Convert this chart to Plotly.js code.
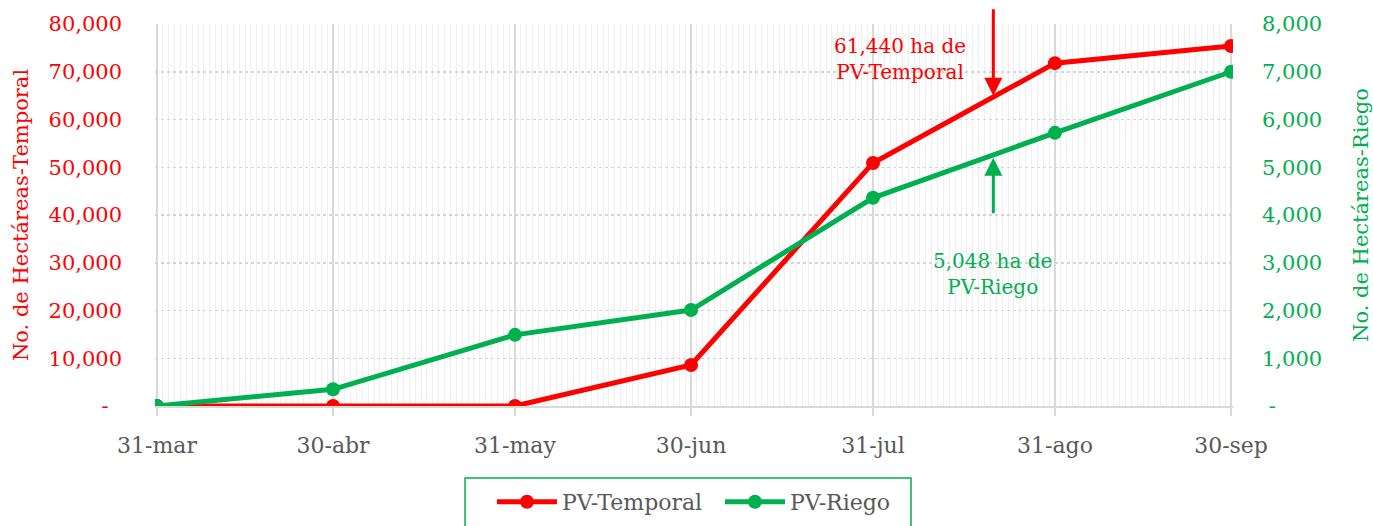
<!DOCTYPE html>
<html>
<head>
<meta charset="utf-8">
<script src="https://cdn.plot.ly/plotly-3.0.1.min.js"></script>
<style>html,body{margin:0;padding:0;background:#fff;}#chart{width:1373px;height:526px;}</style>
</head>
<body>
<div id="chart"></div>
<script>
// ---- data ----
var dates = ['2023-03-31','2023-04-30','2023-05-31','2023-06-30','2023-07-31','2023-08-31','2023-09-30'];
var dateLabels = ['31-mar','30-abr','31-may','30-jun','31-jul','31-ago','30-sep'];
var temporal = [0, 0, 0, 8600, 50900, 71800, 75400];
var riego = [0, 350, 1490, 2010, 4360, 5720, 7000];
var leftTickVals = [0,10000,20000,30000,40000,50000,60000,70000,80000];
var leftTickText = ['-\u00a0\u00a0','10,000','20,000','30,000','40,000','50,000','60,000','70,000','80,000'];
var rightTickVals = [0,1000,2000,3000,4000,5000,6000,7000,8000];
var rightTickText = ['\u00a0-','1,000','2,000','3,000','4,000','5,000','6,000','7,000','8,000'];
var noteTemporal = '61,440 ha de<br>PV-Temporal';
var noteRiego = '5,048 ha de<br>PV-Riego';
var noteDate = '2023-08-20 12:00';
var noteTemporalValue = 65000;
var noteRiegoValue = 5200;

var RED = '#ff0000', GREEN = '#00b050', GRAY = '#595959';
var FONT = 'DejaVu Serif';

var traces = [
  {x: dates, y: temporal, name: 'PV-Temporal', type: 'scatter', mode: 'lines+markers',
   line: {color: RED, width: 5}, marker: {color: RED, size: 14}, yaxis: 'y'},
  {x: dates, y: riego, name: 'PV-Riego', type: 'scatter', mode: 'lines+markers',
   line: {color: GREEN, width: 5}, marker: {color: GREEN, size: 14}, yaxis: 'y2'}
];

var layout = {
  width: 1373, height: 526,
  margin: {l: 155, r: 140, t: 24, b: 120, autoexpand: false},
  paper_bgcolor: '#fff', plot_bgcolor: '#fff',
  font: {family: FONT, size: 21, color: GRAY},
  showlegend: true,
  legend: {orientation: 'h', x: 0.3126, xanchor: 'left', y: -0.251, yanchor: 'middle',
           font: {family: FONT, size: 22, color: GRAY}, bgcolor: 'rgba(0,0,0,0)', borderwidth: 0,
           itemwidth: 60, entrywidth: 153},
  xaxis: {
    type: 'date', range: ['2023-03-30 16:00', '2023-09-30 08:00'],
    tickmode: 'array', tickvals: dates, ticktext: dateLabels,
    tickfont: {family: FONT, size: 22, color: GRAY},
    showgrid: true, gridcolor: '#d9d9d9', gridwidth: 1.5,
    ticks: 'outside', ticklen: 8, tickcolor: '#d9d9d9', tickwidth: 1.5, ticklabelstandoff: 11,
    showline: true, linecolor: '#d9d9d9', linewidth: 1.5,
    minor: {dtick: 86400000, showgrid: true, gridcolor: '#efefef', gridwidth: 1, ticks: ''},
    zeroline: false, fixedrange: true
  },
  yaxis: {
    range: [0, 80000], tickmode: 'array', tickvals: leftTickVals, ticktext: leftTickText,
    tickfont: {family: FONT, size: 21, color: RED},
    showgrid: true, gridcolor: '#d6d6d6', gridwidth: 1.5, griddash: 'dot',
    zeroline: false, showline: false, ticks: '', ticklabelstandoff: 32,
    title: {text: 'No. de Hectáreas-Temporal', font: {family: FONT, size: 21, color: RED}, standoff: 14}
  },
  yaxis2: {
    range: [0, 8000], overlaying: 'y', side: 'right', tickmode: 'array', tickvals: rightTickVals, ticktext: rightTickText,
    tickfont: {family: FONT, size: 21, color: GREEN},
    showgrid: false, zeroline: false, showline: false, ticks: '', ticklabelstandoff: 28,
    title: {text: 'No. de Hectáreas-Riego', font: {family: FONT, size: 21, color: GREEN}, standoff: 32}
  },
  shapes: [
    {type: 'rect', xref: 'paper', yref: 'paper', x0: 0.2876, x1: 0.7013, y0: -0.1885, y1: -0.36,
     line: {color: GREEN, width: 1.5}, fillcolor: 'rgba(0,0,0,0)'}
  ],
  annotations: [
    {x: noteDate, y: noteTemporalValue, xref: 'x', yref: 'y', text: '', showarrow: true,
     ax: 0, ay: -88, arrowhead: 2, arrowsize: 1.2, arrowwidth: 3, arrowcolor: RED},
    {x: noteDate, y: noteRiegoValue, xref: 'x', yref: 'y2', text: '', showarrow: true,
     ax: 0, ay: 57, arrowhead: 2, arrowsize: 1.2, arrowwidth: 3, arrowcolor: GREEN},
    {x: 0.691, y: 0.908, xref: 'paper', yref: 'paper', xanchor: 'center', yanchor: 'middle',
     text: noteTemporal, showarrow: false, font: {family: FONT, size: 20, color: RED}, align: 'center'},
    {x: 0.777, y: 0.3455, xref: 'paper', yref: 'paper', xanchor: 'center', yanchor: 'middle',
     text: noteRiego, showarrow: false, font: {family: FONT, size: 20, color: GREEN}, align: 'center'}
  ]
};

Plotly.newPlot('chart', traces, layout, {displayModeBar: false, staticPlot: true});
</script>
</body>
</html>
